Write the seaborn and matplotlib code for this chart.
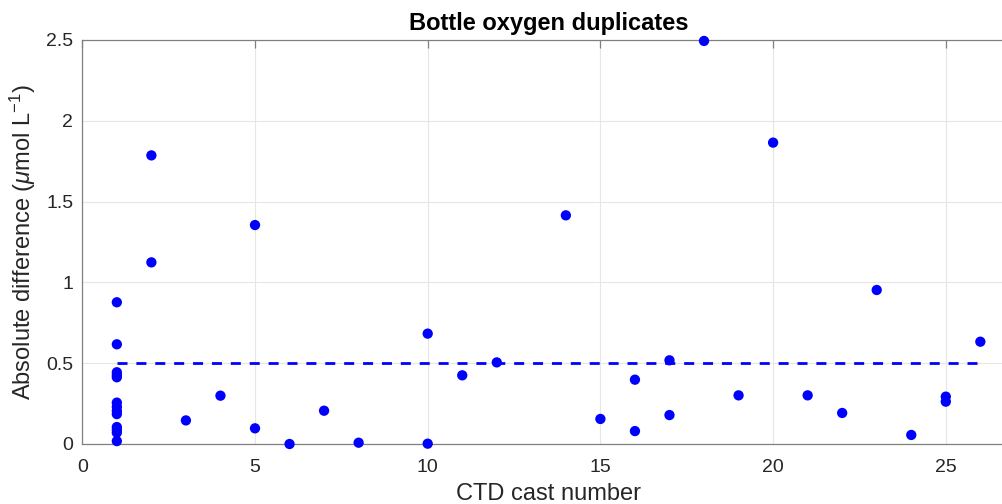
import numpy as np
import pandas as pd
import matplotlib
matplotlib.use("Agg")
import matplotlib.pyplot as plt
import seaborn as sns

# cast numbers and absolute differences of duplicate bottle oxygen samples
cast = [1, 1, 1, 1, 1, 1, 1, 1, 1, 1, 1, 1, 1,
        2, 2, 3, 4, 5, 5, 6, 7, 8, 10, 10, 11, 12,
        14, 15, 16, 16, 17, 17, 18, 19, 20, 21, 22, 23, 24, 25, 25, 26]
abs_diff = [0.877, 0.617, 0.444, 0.427, 0.413, 0.256, 0.23, 0.205, 0.185,
            0.105, 0.088, 0.07, 0.018,
            1.786, 1.124, 0.146, 0.299, 1.355, 0.097, 0.0, 0.206, 0.008,
            0.683, 0.002, 0.425, 0.505,
            1.415, 0.155, 0.398, 0.080, 0.518, 0.179, 2.494, 0.301, 1.865,
            0.301, 0.192, 0.953, 0.056, 0.293, 0.262, 0.633]

# acceptance threshold
thresh_x = [1, 26]
thresh_y = [0.5, 0.5]

x_ticks = [0, 5, 10, 15, 20, 25]
y_ticks = [0, 0.5, 1, 1.5, 2, 2.5]
y_tick_labels = ["0", "0.5", "1", "1.5", "2", "2.5"]

df = pd.DataFrame({"cast": cast, "diff": abs_diff})

sns.set_style("white")
plt.rcParams["font.family"] = ["Liberation Sans", "DejaVu Sans"]
plt.rcParams["mathtext.fontset"] = "custom"
plt.rcParams["mathtext.rm"] = "Liberation Sans"
plt.rcParams["mathtext.it"] = "Liberation Sans:italic"

fig = plt.figure(figsize=(10.03, 5.04), dpi=100)
# matlab-style axes, extends past the right edge (cropped export)
ax = fig.add_axes([82.3 / 1003, 1 - 444 / 504, (27 * 34.54) / 1003, 404 / 504])

ax.plot(thresh_x, thresh_y, color="blue", lw=2, ls=(0, (3.6, 3.2)), zorder=2)
sns.scatterplot(data=df, x="cast", y="diff", ax=ax, color="blue", s=55,
                edgecolor="none", linewidth=0, zorder=3, clip_on=False)

ax.set_xlim(0, 27)
ax.set_ylim(0, 2.5)
ax.set_xticks(x_ticks)
ax.set_yticks(y_ticks)
ax.set_yticklabels(y_tick_labels)
ax.grid(True, color="#e6e6e6", lw=0.8)
ax.set_axisbelow(True)

for s in ax.spines.values():
    s.set_color("#808080")
    s.set_linewidth(0.9)
ax.tick_params(direction="in", length=6, width=0.9, color="#808080",
               labelsize=14, labelcolor="#262626", top=True, right=True)
ax.tick_params(axis="x", pad=11)
ax.tick_params(axis="y", pad=6.5)

ax.set_xlabel("CTD cast number", fontsize=17, color="#262626", labelpad=5)
ax.set_ylabel(r"Absolute difference ($\mu$mol L$^{-1}$)", fontsize=17,
              color="#262626", labelpad=6)
ax.set_title("Bottle oxygen duplicates", fontsize=17, fontweight="bold",
             color="black", pad=7)

fig.savefig("out.png", dpi=100)
